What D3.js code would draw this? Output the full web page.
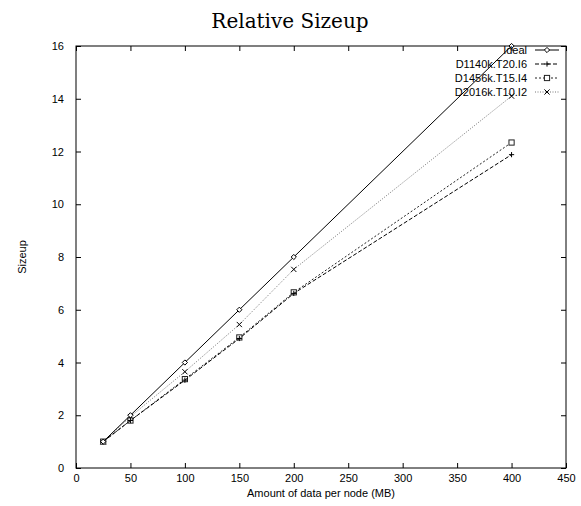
<!DOCTYPE html>
<html>
<head>
<meta charset="utf-8">
<script src="https://cdn.jsdelivr.net/npm/d3@7"></script>
<style>
  body { margin: 0; background: #fff; }
  svg text { font-family: "Liberation Sans", Arial, sans-serif; }
</style>
</head>
<body>
<svg id="chart" width="581" height="506"></svg>
<script>
// data (MB per node -> relative sizeup)
var sizes = [25, 50, 100, 150, 200, 400];
var ideal = [1, 2, 4, 6, 8, 16];
var d1140 = [1, 1.8, 3.33, 4.91, 6.62, 11.88];
var d1456 = [1, 1.8, 3.37, 4.95, 6.66, 12.34];
var d2016 = [1, 1.95, 3.65, 5.44, 7.53, 14.1];
var seriesNames = ["Ideal", "D1140k.T20.I6", "D1456k.T15.I4", "D2016k.T10.I2"];
var xTicks = [0, 50, 100, 150, 200, 250, 300, 350, 400, 450];
var yTicks = [0, 2, 4, 6, 8, 10, 12, 14, 16];

var svg = d3.select("#chart");
var mLeft = 76, mRight = 566, mTop = 46, mBottom = 468;

var x = d3.scaleLinear().domain([0, 450]).range([mLeft, mRight]);
var y = d3.scaleLinear().domain([0, 16]).range([mBottom, mTop]);

var series = [
  { name: seriesNames[0], vals: ideal, dash: null, color: "#000", marker: "diamond" },
  { name: seriesNames[1], vals: d1140, dash: "4,2", color: "#000", marker: "plus" },
  { name: seriesNames[2], vals: d1456, dash: "2,2", color: "#222", marker: "square" },
  { name: seriesNames[3], vals: d2016, dash: "1,1.5", color: "#777", marker: "cross" }
];

// frame
svg.append("rect")
  .attr("x", mLeft).attr("y", mTop)
  .attr("width", mRight - mLeft).attr("height", mBottom - mTop)
  .attr("fill", "none").attr("stroke", "#000").attr("stroke-width", 1);

// axes with inward ticks on all four sides
svg.append("g").attr("transform", "translate(0," + mBottom + ")")
  .call(d3.axisBottom(x).tickValues(xTicks).tickSizeInner(-5).tickSizeOuter(0).tickPadding(6))
  .call(function(g) { g.select(".domain").remove(); });
svg.append("g").attr("transform", "translate(0," + mTop + ")")
  .call(d3.axisTop(x).tickValues(xTicks).tickSizeInner(-5).tickSizeOuter(0).tickFormat(""))
  .call(function(g) { g.select(".domain").remove(); });
svg.append("g").attr("transform", "translate(" + mLeft + ",0)")
  .call(d3.axisLeft(y).tickValues(yTicks).tickSizeInner(-5).tickSizeOuter(0).tickPadding(12))
  .call(function(g) { g.select(".domain").remove(); });
svg.append("g").attr("transform", "translate(" + mRight + ",0)")
  .call(d3.axisRight(y).tickValues(yTicks).tickSizeInner(-5).tickSizeOuter(0).tickFormat(""))
  .call(function(g) { g.select(".domain").remove(); });

svg.selectAll(".tick text")
  .attr("font-size", 11).attr("fill", "#000")
  .style("font-family", "'Liberation Sans', Arial, sans-serif");
svg.selectAll(".tick line").attr("stroke", "#000");

// title and axis labels
svg.append("text")
  .attr("x", 290).attr("y", 28)
  .attr("text-anchor", "middle")
  .style("font-family", "'DejaVu Serif', 'Liberation Serif', serif")
  .attr("font-size", 20)
  .text("Relative Sizeup");

svg.append("text")
  .attr("x", 321).attr("y", 497)
  .attr("text-anchor", "middle").attr("font-size", 11)
  .text("Amount of data per node (MB)");

svg.append("text")
  .attr("transform", "translate(26,257) rotate(-90)")
  .attr("text-anchor", "middle").attr("font-size", 11)
  .text("Sizeup");

var line = d3.line()
  .x(function(d, i) { return x(sizes[i]); })
  .y(function(d) { return y(d); });

function drawMarker(g, type, cx, cy, color) {
  var r = 2.6;
  if (type === "diamond") {
    g.append("path")
      .attr("d", "M" + cx + "," + (cy - r) + "L" + (cx + r) + "," + cy + "L" + cx + "," + (cy + r) + "L" + (cx - r) + "," + cy + "Z")
      .attr("fill", "#fff").attr("stroke", color).attr("stroke-width", 1);
  } else if (type === "plus") {
    g.append("path")
      .attr("d", "M" + (cx - r) + "," + cy + "H" + (cx + r) + "M" + cx + "," + (cy - r) + "V" + (cy + r))
      .attr("stroke", color).attr("stroke-width", 1);
  } else if (type === "square") {
    g.append("rect")
      .attr("x", cx - r).attr("y", cy - r).attr("width", 2 * r).attr("height", 2 * r)
      .attr("fill", "#fff").attr("stroke", color).attr("stroke-width", 1);
  } else {
    g.append("path")
      .attr("d", "M" + (cx - r) + "," + (cy - r) + "L" + (cx + r) + "," + (cy + r) + "M" + (cx - r) + "," + (cy + r) + "L" + (cx + r) + "," + (cy - r))
      .attr("stroke", "#000").attr("stroke-width", 1);
  }
}

// draw in reverse so Ideal ends on top
series.slice().reverse().forEach(function(s) {
  var g = svg.append("g");
  g.append("path")
    .datum(s.vals)
    .attr("d", line)
    .attr("fill", "none")
    .attr("stroke", s.color)
    .attr("stroke-width", 1)
    .attr("stroke-dasharray", s.dash);
  s.vals.forEach(function(v, i) {
    drawMarker(g, s.marker, x(sizes[i]), y(v), s.color);
  });
});

// legend
var legend = svg.append("g");
series.forEach(function(s, i) {
  var ly = 50 + i * 14;
  legend.append("text")
    .attr("x", 527).attr("y", ly + 4)
    .attr("text-anchor", "end").attr("font-size", 11)
    .text(s.name);
  legend.append("line")
    .attr("x1", 535).attr("x2", 559).attr("y1", ly).attr("y2", ly)
    .attr("stroke", s.color).attr("stroke-width", 1)
    .attr("stroke-dasharray", s.dash);
  drawMarker(legend, s.marker, 547, ly, s.color);
});
</script>
</body>
</html>
